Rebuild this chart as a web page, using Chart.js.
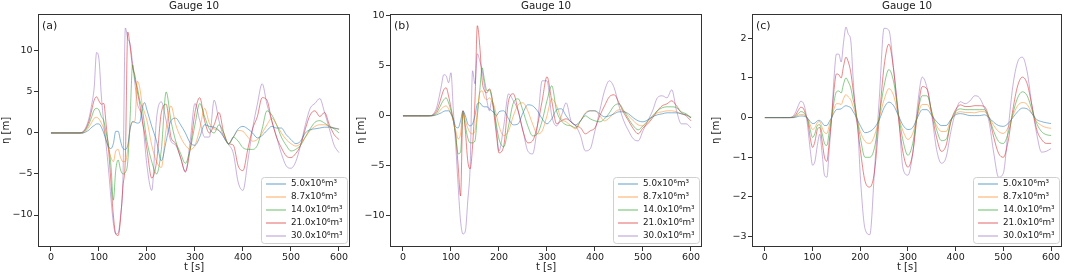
<!DOCTYPE html>
<html>
<head>
<meta charset="utf-8">
<script src="https://cdn.jsdelivr.net/npm/chart.js@4/dist/chart.umd.min.js"></script>
<style>
  html, body { margin: 0; padding: 0; background: #fff; }
  #wrap { position: relative; width: 1065px; height: 274px; }
  canvas { position: absolute; top: 0; }
</style>
</head>
<body>
<div id="wrap">
  <canvas id="gaugeA" width="355" height="274" style="left:0px"></canvas>
  <canvas id="gaugeB" width="355" height="274" style="left:355px"></canvas>
  <canvas id="gaugeC" width="355" height="274" style="left:710px"></canvas>
</div>
<script>
// time [s], shared by all three panels
const times = [0,10,20,30,40,50,60,
  65,70,75,80,85,90,95,100,105,110,115,120,125,130,135,140,145,150,155,160,165,170,175,180,185,190,195,200,
  210,220,230,240,250,260,270,280,290,300,310,320,330,340,350,360,370,380,390,400,410,420,430,440,450,
  460,470,480,490,500,510,520,530,540,550,560,570,580,590,600];

const volumeLabels = ['5.0x10\u2076m\u00b3', '8.7x10\u2076m\u00b3', '14.0x10\u2076m\u00b3', '21.0x10\u2076m\u00b3', '30.0x10\u2076m\u00b3'];
const lineColors = ['rgba(31,119,180,0.55)', 'rgba(255,127,14,0.5)', 'rgba(44,160,44,0.55)', 'rgba(214,39,40,0.55)', 'rgba(148,103,189,0.5)'];

// panel (a)
const a_v5 = [0,0,0,0,0,0,0,
  0,0.05,0.2,0.4,0.7,0.9,1.1,1.1,0.7,0,-0.9,-1.7,-1.9,-1.3,0.2,0.2,-1.0,-1.9,-2.0,-1.5,0.5,1.4,1.3,1.2,1.3,3.0,3.7,2.8,
  0.8,-1.0,-3.4,-1.0,1.5,1.8,1.0,0,-1.2,-1.5,-0.5,1.0,0.8,0.7,0.3,-0.5,-1.3,-0.5,0.5,0.8,0.5,0,-0.6,-0.3,0.3,0.8,0.6,0.6,-0.2,-0.8,-1.3,-1.0,0,0.4,0.5,0.6,0.7,0.7,0.6,0.5];
const a_v87 = [0,0,0,0,0,0,0,
  0,0.1,0.4,0.8,1.3,1.8,1.9,1.7,1.2,0.5,-0.8,-2.0,-3.0,-3.5,-2.2,-2.0,-3.0,-3.5,-3.5,-2.0,0.5,1.3,1.5,6.3,5.5,3.5,2.5,1.5,
  -1.5,-3.5,-4.2,0.5,3.3,1.0,-0.5,-1.5,-2.0,-1.5,0.5,3.0,1.2,0.5,0.3,-0.3,-1.3,-0.5,0.3,0.2,-0.5,-1.0,-0.8,0,1.0,1.8,1.0,0,-0.8,-1.3,-1.6,-1.3,-0.5,0.3,0.8,1.0,1.0,0.8,0.6,0.4];
const a_v14 = [0,0,0,0,0,0,0,
  0,0.2,0.6,1.2,2.0,2.8,3.0,2.8,2.0,1.5,0,-1.5,-4.0,-8.2,-4.5,-3.3,-4.5,-5.0,-4.8,-3.5,2.0,8.3,6.5,5.5,4.0,3.0,1.0,-1.0,
  -3.5,-5.0,-2.0,5.0,1.5,-1.0,-2.5,-3.7,-2.0,1.0,3.6,2.0,0.5,0,1.0,0,-1.4,-0.5,-1.0,-1.8,-2.0,-2.0,-1.5,0.5,2.7,2.2,1.0,-0.5,-1.5,-2.2,-2.0,-1.5,-0.5,0.5,1.3,1.5,1.2,0.8,0.5,0];
const a_v21 = [0,0,0,0,0,0,0,
  0.05,0.3,0.8,1.6,2.8,4.0,4.4,3.9,3.5,3.6,1.0,-2.0,-6.0,-10.0,-12.3,-12.5,-10.5,-6.5,-3.0,12.3,10.5,8.0,7.0,5.0,3.5,1.5,0,-2.0,
  -5.5,-3.5,2.5,3.5,-0.5,-1.3,-3.0,-4.7,-2.0,2.5,4.3,1.5,0,1.0,2.5,0,-1.3,-1.5,-4.0,-4.6,-2.0,0.5,2.0,4.3,4.0,1.5,-0.5,-1.8,-2.8,-3.0,-2.5,-1.5,0.5,2.2,2.7,2.0,2.5,1.0,-0.2,-0.8];
const a_v30 = [0,0,0,0,0,0,0,
  0.1,0.4,1.0,2.0,3.5,5.5,9.8,9.0,4.5,1.2,-1.5,-4.5,-8.0,-11.0,-12.3,-12.2,-10.0,-5.5,12.8,11.5,10.8,8.5,6.0,3.6,2.8,2.0,-1.0,-4.0,
  -7.0,1.8,3.8,1.5,-1.0,-1.5,-3.0,-4.8,-1.0,3.6,1.5,-0.5,-0.5,4.0,1.5,-0.5,-1.4,-2.5,-6.0,-7.0,-3.5,0.5,3.5,6.0,3.5,1.5,-0.5,-2.5,-4.0,-4.3,-3.5,-1.5,1.0,3.0,3.6,4.2,2.5,0.5,-1.5,-2.4];

// panel (b)
const b_v5 = [0,0,0,0,0,0,0,
  0.03,0.1,0.2,0.3,0.45,0.5,0.5,0.2,-0.3,-1.1,-1.2,-0.5,0.5,0,-0.8,-1.0,-0.8,0,1.2,1.3,1.0,0.9,0.9,0.7,0.5,0.3,0,0.4,
  0.5,-0.3,-0.9,-0.8,0.3,1.1,1.0,0.5,-0.3,-0.8,-0.3,0.6,0.7,0,-0.6,-0.9,-0.5,0.2,0.5,0.5,0.2,-0.1,0,0.2,0.4,0.4,0.2,-0.2,-0.5,-0.6,-0.4,-0.1,0.1,0.2,0.3,0.3,0.3,0.2,0.1,-0.2];
const b_v87 = [0,0,0,0,0,0,0.01,
  0.05,0.2,0.4,0.7,0.9,1.0,0.7,0.2,-0.5,-1.5,-2.3,-1.8,0.5,-0.5,-1.2,-1.7,-1.8,-1.5,0.5,2.3,2.5,1.8,1.6,1.8,1.5,1.0,0,-1.0,
  -2.0,-1.5,0,1.1,1.3,0.5,-0.8,-1.8,-1.5,0,1.7,1.0,-0.3,-0.6,-1.0,-1.3,-0.5,0.3,0.5,0.5,0,-0.5,-0.2,0.3,0.6,0.5,0,-0.5,-0.9,-1.0,-0.6,-0.1,0.3,0.4,0.5,0.5,0.4,0.2,0.1,-0.1];
const b_v14 = [0,0,0,0,0,0,0.02,
  0.1,0.3,0.7,1.2,1.6,1.8,1.3,0.5,-0.5,-2.0,-3.8,-3.6,0.3,-1.0,-2.2,-2.7,-2.7,-2.5,0,2.5,4.8,3.5,2.5,2.6,1.8,0.5,-1.0,-2.3,
  -3.1,-1.0,1.3,1.7,0.5,-1.0,-2.0,-1.8,-0.5,1.5,3.0,0.5,-0.5,-0.9,-1.0,-1.2,-0.5,0,-0.3,-0.5,-0.6,-0.3,0.3,1.0,1.2,0.5,-0.3,-1.0,-1.4,-1.0,-0.5,0,0.5,0.8,0.9,0.9,0.8,0.4,0.2,-0.2];
const b_v21 = [0,0,0,0,0,0,0.03,
  0.2,0.5,1.1,1.9,2.6,2.8,2.0,0.8,-0.5,-2.0,-5.0,-8.0,0.5,-1.5,-4.5,-5.3,-3.0,1.5,9.0,7.0,3.5,2.5,2.3,2.7,2.0,0,-2.0,-3.7,
  -3.0,1.5,2.2,0.5,-1.5,-2.7,-2.5,-1.0,1.5,3.9,1.5,-0.8,-0.5,-0.3,-0.6,-1.0,-1.2,-1.8,-1.5,-1.2,0,1.0,1.9,2.1,1.3,0.3,-0.5,-1.3,-1.8,-1.2,-0.8,-0.2,0.5,1.0,1.2,1.5,1.0,0.3,0,-0.5];
const b_v30 = [0,0,0,0,0,0,0.05,
  0.3,0.8,1.8,3.0,4.1,4.0,3.3,4.3,0.5,-3.0,-7.0,-10.5,-11.8,-11.5,-8.5,-5.0,4.5,3.2,6.2,5.5,4.5,3.0,1.5,0.5,1.5,0.5,-1.5,-3.5,
  -1.0,2.2,1.5,0.5,-1.5,-3.5,-3.8,-1.0,3.5,3.5,0,-1.0,0,1.3,-0.5,-1.0,-2.0,-3.5,-3.3,-1.5,0.5,2.5,3.5,2.8,1.0,-0.5,-1.5,-2.3,-2.5,-1.5,-0.5,0.5,1.8,2.0,1.8,2.6,0.5,-0.8,-0.8,-1.2];

// panel (c)
const c_v5 = [0,0,0,0,0,0,0,
  0.01,0.03,0.04,0.04,0.02,-0.02,-0.1,-0.15,-0.14,-0.08,-0.07,-0.13,-0.2,-0.2,-0.1,0,0.12,0.2,0.21,0.22,0.27,0.3,0.28,0.25,0.15,0.05,-0.08,-0.2,
  -0.38,-0.35,-0.25,-0.05,0.25,0.39,0.3,0.05,-0.2,-0.3,-0.25,0,0.2,0.2,0.05,-0.1,-0.2,-0.2,-0.05,0.07,0.1,0.08,0.05,0.05,0.05,0.07,0,-0.12,-0.2,-0.22,-0.15,0,0.15,0.24,0.22,0.1,-0.05,-0.1,-0.13,-0.15];
const c_v87 = [0,0,0,0,0,0,0,
  0.03,0.06,0.08,0.08,0.03,-0.03,-0.18,-0.3,-0.25,-0.13,-0.1,-0.25,-0.38,-0.4,-0.2,0,0.22,0.35,0.35,0.33,0.48,0.58,0.52,0.45,0.28,0.1,-0.12,-0.35,
  -0.6,-0.65,-0.45,0,0.45,0.73,0.55,0.05,-0.35,-0.55,-0.4,0.05,0.33,0.33,0.1,-0.2,-0.35,-0.35,-0.05,0.1,0.15,0.13,0.13,0.12,0.15,0.15,0,-0.2,-0.35,-0.4,-0.25,0.05,0.3,0.38,0.33,0.1,-0.1,-0.2,-0.25,-0.27];
const c_v14 = [0,0,0,0,0,0,0.01,
  0.05,0.1,0.15,0.14,0.06,-0.05,-0.3,-0.5,-0.4,-0.2,-0.18,-0.4,-0.65,-0.7,-0.35,0,0.4,0.65,0.67,0.62,0.85,1.0,0.9,0.75,0.45,0.2,-0.15,-0.5,
  -1.0,-1.0,-0.75,0.05,0.8,1.21,0.9,0.1,-0.6,-0.95,-0.65,0.1,0.55,0.55,0.15,-0.3,-0.58,-0.55,-0.1,0.15,0.22,0.2,0.2,0.2,0.2,0.2,0,-0.35,-0.6,-0.65,-0.4,0.1,0.5,0.65,0.55,0.2,-0.15,-0.35,-0.43,-0.45];
const c_v21 = [0,0,0,0,0,0,0.02,
  0.08,0.18,0.26,0.24,0.1,-0.1,-0.5,-0.75,-0.6,-0.3,-0.25,-0.6,-1.0,-1.1,-0.6,0,0.7,1.1,1.08,1.0,1.3,1.52,1.4,1.15,0.7,0.25,-0.3,-0.8,
  -1.6,-1.75,-1.35,0,1.3,1.85,1.2,0,-0.9,-1.25,-0.9,0.1,0.78,0.72,0.1,-0.5,-0.85,-0.7,-0.1,0.2,0.32,0.28,0.28,0.3,0.3,0.28,0,-0.5,-0.9,-1.0,-0.6,0.2,0.8,1.02,0.85,0.3,-0.3,-0.55,-0.65,-0.65];
const c_v30 = [0,0,0,0,0,0,0.05,
  0.15,0.3,0.41,0.38,0.18,-0.25,-0.8,-1.2,-1.1,-0.7,-0.42,-0.9,-1.45,-1.5,-0.8,0,1.0,1.6,1.6,1.4,1.9,2.28,2.1,1.95,1.0,0.1,-0.3,-1.45,
  -2.8,-2.95,-1.3,0.5,2.25,2.2,1.2,0.1,-1.3,-1.45,-0.9,0.3,1.02,0.75,0.05,-0.8,-1.15,-1.0,-0.35,0.15,0.4,0.35,0.42,0.55,0.5,0.25,-0.1,-0.9,-1.5,-1.4,-0.3,0.8,1.4,1.52,1.15,0.3,-0.41,-0.87,-0.85,-0.78];

const FONT = 'DejaVu Sans';
const minus = v => (v < 0 ? '\u2212' + Math.abs(v) : String(v));

// frame, title, panel tag and legend box
const decor = {
  id: 'decor',
  afterDraw(chart, args, opts) {
    const {ctx, chartArea: a} = chart;
    ctx.save();
    ctx.strokeStyle = '#333';
    ctx.lineWidth = 1;
    ctx.strokeRect(Math.round(a.left) + 0.5, Math.round(a.top) + 0.5,
      Math.round(a.right - a.left) - 1, Math.round(a.bottom - a.top) - 1);

    ctx.fillStyle = '#222';
    ctx.textBaseline = 'middle';
    ctx.textAlign = 'center';
    ctx.font = '10.3px "' + FONT + '"';
    ctx.fillText('Gauge 10', (a.left + a.right) / 2, 6);

    ctx.textAlign = 'left';
    ctx.font = '11px "' + FONT + '"';
    ctx.fillText(opts.tag, a.left + 4, a.top + 12);

    // legend
    const w = 86, h = 66;
    const x0 = a.right - 3 - w, y0 = a.bottom - 4 - h;
    ctx.beginPath();
    ctx.roundRect(x0 + 0.5, y0 + 0.5, w, h, 3);
    ctx.fillStyle = 'rgba(255,255,255,0.85)';
    ctx.fill();
    ctx.strokeStyle = '#d0d0d0';
    ctx.stroke();
    ctx.font = '8.8px "' + FONT + '"';
    chart.data.datasets.forEach((ds, i) => {
      const y = y0 + 7 + i * 13;
      ctx.beginPath();
      ctx.strokeStyle = ds.borderColor;
      ctx.lineWidth = 1.3;
      ctx.moveTo(x0 + 5, y);
      ctx.lineTo(x0 + 25, y);
      ctx.stroke();
      ctx.fillStyle = '#222';
      ctx.fillText(ds.label, x0 + 30, y);
    });
    ctx.restore();
  }
};

function makeGauge(id, tag, series, yMin, yMax, yTicks, leftW, rightPad) {
  const datasets = series.map((vals, i) => ({
    label: volumeLabels[i],
    data: times.map((t, k) => ({x: t, y: vals[k]})),
    borderColor: lineColors[i],
    borderWidth: 1,
    pointRadius: 0,
    cubicInterpolationMode: 'monotone',
    fill: false
  }));
  return new Chart(document.getElementById(id), {
    type: 'line',
    data: {datasets},
    plugins: [decor],
    options: {
      responsive: false,
      animation: false,
      devicePixelRatio: 1,
      layout: {padding: {top: 14, right: rightPad, left: 0, bottom: 0}},
      plugins: {
        legend: {display: false},
        tooltip: {enabled: false},
        decor: {tag}
      },
      scales: {
        x: {
          type: 'linear',
          min: -27,
          max: 623,
          afterBuildTicks: s => { s.ticks = [0, 100, 200, 300, 400, 500, 600].map(v => ({value: v})); },
          afterFit: s => { s.height = 27; },
          grid: {drawOnChartArea: false, tickLength: 4, color: '#333'},
          border: {display: false},
          ticks: {color: '#222', padding: 1, font: {family: FONT, size: 9.5}, maxRotation: 0, callback: v => minus(v)},
          title: {display: true, text: 't [s]', color: '#222', font: {family: FONT, size: 10}, padding: {top: 0, bottom: 1}}
        },
        y: {
          min: yMin,
          max: yMax,
          afterBuildTicks: s => { s.ticks = yTicks.map(v => ({value: v})); },
          afterFit: s => { s.width = leftW; },
          grid: {drawOnChartArea: false, tickLength: 4, color: '#333'},
          border: {display: false},
          ticks: {color: '#222', padding: 1.5, font: {family: FONT, size: 9.5}, callback: v => minus(v)},
          title: {display: true, text: '\u03b7 [m]', color: '#222', font: {family: FONT, size: 10}, padding: {top: 0, bottom: 0}}
        }
      }
    }
  });
}

makeGauge('gaugeA', '(a)', [a_v5, a_v87, a_v14, a_v21, a_v30], -13.9, 14.5, [-10, -5, 0, 5, 10], 38, 5);
makeGauge('gaugeB', '(b)', [b_v5, b_v87, b_v14, b_v21, b_v30], -13.1, 10.17, [-10, -5, 0, 5, 10], 35, 8);
makeGauge('gaugeC', '(c)', [c_v5, c_v87, c_v14, c_v21, c_v30], -3.26, 2.61, [-3, -2, -1, 0, 1, 2], 42, 3);
</script>
</body>
</html>
